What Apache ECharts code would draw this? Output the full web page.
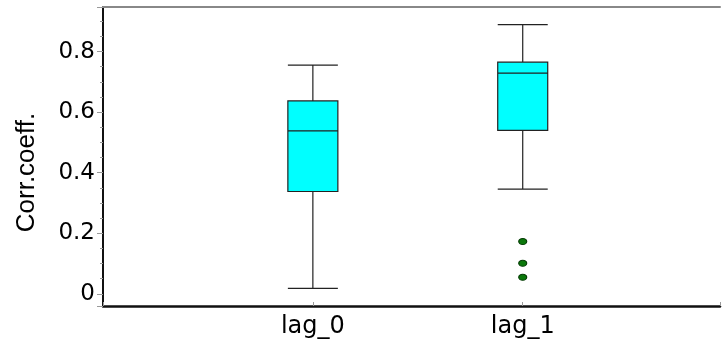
<!DOCTYPE html>
<html>
<head>
    <meta charset="utf-8" />
    <title>Corr.coeff. boxplot</title>
    <script src="https://cdn.jsdelivr.net/npm/echarts@6/dist/echarts.min.js"></script>
    <style>
        body { margin: 0; background: #ffffff; }
    </style>
</head>
<body>
<div id="chart" style="width: 723px; height: 346px;"></div>

<script type="text/javascript">
    // categories and their positions on the x axis
    var categories = ['lag_0', 'lag_1'];
    var positions = [1, 2];
    // box stats: [min, Q1, median, Q3, max]
    var lag0Stats = [0.018, 0.338, 0.538, 0.637, 0.755];
    var lag1Stats = [0.346, 0.540, 0.729, 0.765, 0.889];
    // outliers (lag_1 only)
    var lag1Outliers = [0.173, 0.101, 0.055];

    var allStats = [lag0Stats, lag1Stats];
    var boxData = [];
    for (var i = 0; i < allStats.length; i++) {
        boxData.push([positions[i]].concat(allStats[i]));
    }
    var outlierData = [];
    for (var j = 0; j < lag1Outliers.length; j++) {
        outlierData.push([positions[1], lag1Outliers[j]]);
    }

    var myChart = echarts.init(document.getElementById('chart'));
    var option = {
        animation: false,
        grid: { left: 103, right: 0, top: 7, bottom: 40 },
        xAxis: [
            {
                type: 'value',
                min: 0,
                max: 2.94,
                interval: 1,
                splitLine: { show: false },
                axisLine: { onZero: false, lineStyle: { color: '#111', width: 2.5 } },
                axisTick: { inside: true, length: 4, lineStyle: { color: '#999' } },
                axisLabel: {
                    margin: 9,
                    color: '#000',
                    fontFamily: 'DejaVu Sans',
                    fontSize: 24,
                    formatter: function (v) {
                        var k = positions.indexOf(v);
                        return k >= 0 ? categories[k] : '';
                    }
                }
            },
            {
                type: 'value',
                position: 'top',
                min: 0,
                max: 2.94,
                interval: 1,
                splitLine: { show: false },
                axisLine: { onZero: false, lineStyle: { color: '#888', width: 2 } },
                axisTick: { show: false },
                axisLabel: { show: false }
            }
        ],
        yAxis: {
            type: 'value',
            min: -0.04,
            max: 0.947,
            splitNumber: 5,
            splitLine: { show: false },
            name: 'Corr.coeff.',
            nameLocation: 'middle',
            nameGap: 63,
            nameTextStyle: {
                color: '#000',
                fontFamily: 'Liberation Sans',
                fontSize: 26,
                padding: [0, 32, 0, 0]
            },
            axisLine: { show: true, onZero: false, lineStyle: { color: '#111', width: 2 } },
            axisTick: { length: 6, lineStyle: { color: '#999' } },
            minorTick: { show: true, splitNumber: 4, length: 3, lineStyle: { color: '#999' } },
            axisLabel: {
                margin: 8,
                color: '#000',
                fontFamily: 'DejaVu Sans',
                fontSize: 23,
                showMinLabel: false,
                showMaxLabel: false,
                formatter: function (v) {
                    return Math.abs(v) < 1e-9 ? '0' : v.toFixed(1);
                }
            }
        },
        series: [
            {
                type: 'boxplot',
                boxWidth: [50, 50],
                data: boxData,
                itemStyle: { color: '#00ffff', borderColor: '#222', borderWidth: 1.2 }
            },
            {
                type: 'scatter',
                data: outlierData,
                symbol: 'circle',
                symbolSize: [8, 6],
                itemStyle: { color: '#0b780b', opacity: 1, borderColor: '#063d06', borderWidth: 1 }
            }
        ]
    };
    myChart.setOption(option);
</script>
</body>
</html>
